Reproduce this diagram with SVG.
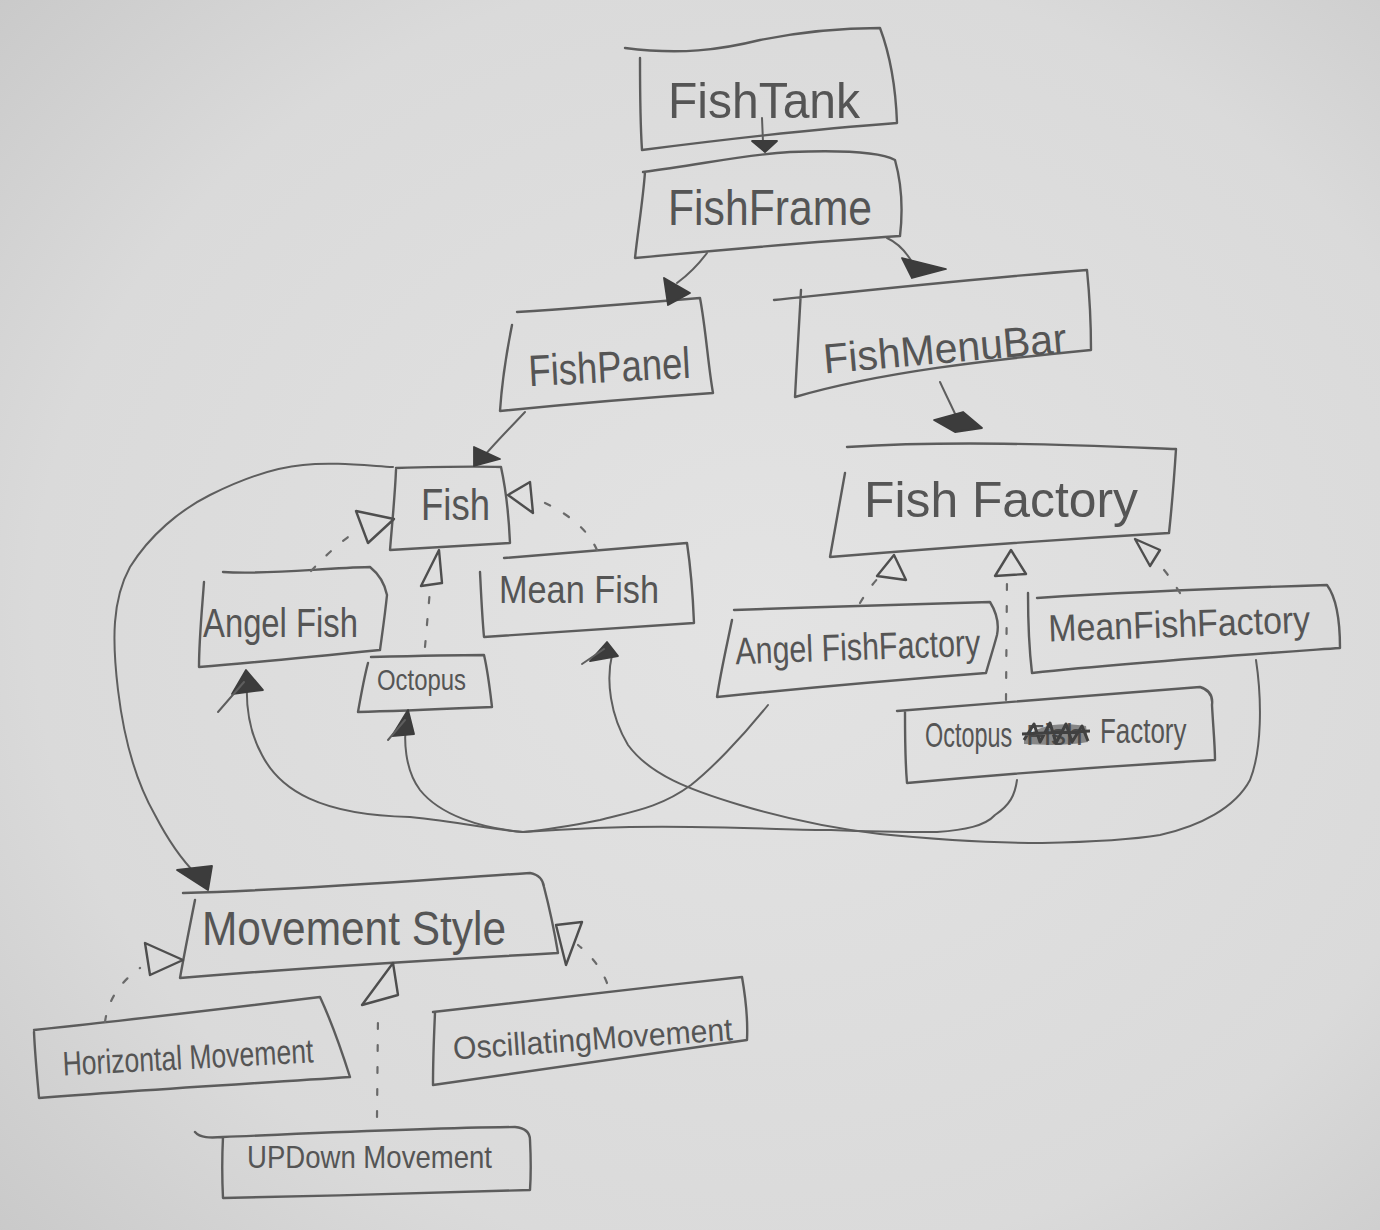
<svg xmlns="http://www.w3.org/2000/svg" width="1380" height="1230" viewBox="0 0 1380 1230">
  <defs>
    <radialGradient id="paper" cx="0.55" cy="0.5" r="0.75">
      <stop offset="0" stop-color="#e3e3e3"/>
      <stop offset="0.7" stop-color="#dadada"/>
      <stop offset="1" stop-color="#c9c9c9"/>
    </radialGradient>
    <style>
      .box { fill: none; stroke: #5c5c5c; stroke-width: 2.4; stroke-linecap: round; stroke-linejoin: round; }
      .edge { fill: none; stroke: #5e5e5e; stroke-width: 2; stroke-linecap: round; }
      .dash { fill: none; stroke: #6a6a6a; stroke-width: 2.2; stroke-dasharray: 6 16; stroke-linecap: round; }
      .head { fill: #3c3c3c; stroke: #3c3c3c; stroke-width: 1.8; stroke-linejoin: round; }
      .tri { fill: none; stroke: #4e4e4e; stroke-width: 2.4; stroke-linejoin: round; }
      .txt { font-family: "Liberation Sans", "DejaVu Sans", sans-serif; fill: #555555; font-weight: normal; }
    </style>
  </defs>

  <rect width="1380" height="1230" fill="url(#paper)"/>

  <!-- class boxes -->
  <g id="fish-tank">
    <path class="box" d="M625,48 C680,55 720,50 760,40 C810,30 850,28 880,28 C892,60 896,95 897,123 C800,130 720,140 642,150 C640,120 640,90 640,58"/>
    <text class="txt" x="668" y="118" font-size="50" textLength="192" lengthAdjust="spacingAndGlyphs">FishTank</text>
  </g>

  <g id="fish-frame">
    <path class="box" d="M643,172 C700,165 740,155 790,152 C840,150 880,152 895,160 C902,185 903,210 900,236 C810,242 720,250 635,258 C638,230 643,200 645,172"/>
    <text class="txt" x="668" y="225" font-size="50" textLength="204" lengthAdjust="spacingAndGlyphs">FishFrame</text>
  </g>

  <g id="fish-panel">
    <path class="box" d="M517,312 C580,308 640,303 700,298 C706,330 708,365 713,393 C640,398 570,404 500,411 C502,380 507,350 512,325"/>
    <text class="txt" x="528" y="382" font-size="44" textLength="162" lengthAdjust="spacingAndGlyphs" transform="rotate(-3 610 360)">FishPanel</text>
  </g>

  <g id="fish-menu-bar">
    <path class="box" d="M774,300 C870,290 980,278 1087,270 C1090,300 1091,325 1091,350 C990,360 880,372 795,397 C797,360 799,320 801,290"/>
    <text class="txt" x="822" y="363" font-size="42" textLength="244" lengthAdjust="spacingAndGlyphs" transform="rotate(-5 944 340)">FishMenuBar</text>
  </g>

  <g id="fish">
    <path class="box" d="M396,468 C430,467 470,466 501,467 C506,490 509,520 510,543 C470,545 430,548 390,550 C392,525 395,495 396,470"/>
    <text class="txt" x="421" y="520" font-size="44" textLength="69" lengthAdjust="spacingAndGlyphs">Fish</text>
  </g>

  <g id="angel-fish">
    <path class="box" d="M223,572 C270,575 320,568 370,567 C380,575 385,585 387,595 C385,615 382,635 380,650 C320,656 260,662 199,667 C199,640 202,610 204,582"/>
    <text class="txt" x="203" y="637" font-size="40" textLength="155" lengthAdjust="spacingAndGlyphs">Angel Fish</text>
  </g>

  <g id="octopus">
    <path class="box" d="M371,657 C410,656 450,655 484,655 C488,672 490,690 492,707 C445,709 400,711 358,712 C361,695 364,678 368,663"/>
    <text class="txt" x="377" y="690" font-size="29" textLength="89" lengthAdjust="spacingAndGlyphs">Octopus</text>
  </g>

  <g id="mean-fish">
    <path class="box" d="M504,558 C570,553 630,548 687,543 C691,570 693,598 694,623 C625,628 555,632 484,637 C482,615 481,592 480,572"/>
    <text class="txt" x="499" y="603" font-size="38" textLength="160" lengthAdjust="spacingAndGlyphs">Mean Fish</text>
  </g>

  <g id="fish-factory">
    <path class="box" d="M847,447 C960,440 1070,445 1176,449 C1174,480 1172,505 1169,533 C1050,540 940,548 830,557 C835,530 840,500 845,473"/>
    <text class="txt" x="864" y="517" font-size="50" textLength="274" lengthAdjust="spacingAndGlyphs">Fish Factory</text>
  </g>

  <g id="angel-fish-factory">
    <path class="box" d="M734,610 C820,607 910,604 990,602 C998,615 999,625 997,635 C993,650 989,662 986,673 C895,680 805,688 717,697 C721,670 727,645 732,620"/>
    <text class="txt" x="735" y="660" font-size="38" textLength="245" lengthAdjust="spacingAndGlyphs" transform="rotate(-2 857 640)">Angel FishFactory</text>
  </g>

  <g id="mean-fish-factory">
    <path class="box" d="M1037,598 C1130,592 1230,588 1327,585 C1338,600 1340,625 1340,648 C1240,655 1135,662 1032,673 C1029,648 1028,620 1028,593"/>
    <text class="txt" x="1048" y="637" font-size="38" textLength="262" lengthAdjust="spacingAndGlyphs" transform="rotate(-2 1179 620)">MeanFishFactory</text>
  </g>

  <g id="octopus-factory">
    <path class="box" d="M897,711 C1000,702 1100,694 1200,687 C1210,690 1213,697 1212,705 C1213,725 1215,745 1215,760 C1110,766 1005,774 907,783 C905,760 905,735 905,712"/>
    <text class="txt" font-size="36" transform="translate(925 747) scale(0.65 1)">Octopus</text>
    <text class="txt" font-size="30" transform="translate(1026 745) scale(1 1)">Fish</text>
    <text class="txt" font-size="36" transform="translate(1100 743) scale(0.72 1)">Factory</text>
    <!-- scribble striking out the middle word -->
    <path d="M1024,738 C1040,724 1060,722 1086,726 L1088,742 C1065,746 1044,745 1024,744 Z" fill="#3e3e3e" fill-opacity="0.55"/>
    <path d="M1024,740 L1034,724 L1040,742 L1050,723 L1056,743 L1066,724 L1072,742 L1082,726 L1088,741 M1022,734 L1090,731" fill="none" stroke="#404040" stroke-width="3" stroke-linejoin="round"/>
  </g>

  <g id="movement-style">
    <path class="box" d="M183,893 C300,890 420,880 530,873 C540,875 543,880 544,887 C550,910 555,935 558,953 C430,960 300,968 180,978 C185,950 190,925 195,900"/>
    <text class="txt" x="202" y="945" font-size="48" textLength="304" lengthAdjust="spacingAndGlyphs">Movement Style</text>
  </g>

  <g id="horizontal-movement">
    <path class="box" d="M34,1030 C130,1020 230,1008 320,997 C333,1025 343,1055 350,1077 C245,1084 140,1090 39,1098 C37,1075 35,1055 34,1032"/>
    <text class="txt" x="62" y="1069" font-size="34" textLength="251" lengthAdjust="spacingAndGlyphs" transform="rotate(-3 188 1050)">Horizontal Movement</text>
  </g>

  <g id="oscillating-movement">
    <path class="box" d="M433,1012 C540,1000 640,988 742,977 C746,1000 748,1020 747,1040 C640,1055 535,1070 433,1085 C433,1060 434,1035 435,1013"/>
    <text class="txt" x="452" y="1050" font-size="32" textLength="280" lengthAdjust="spacingAndGlyphs" transform="rotate(-4 590 1030)">OscillatingMovement</text>
  </g>

  <g id="updown-movement">
    <path class="box" d="M195,1132 C200,1138 210,1138 223,1137 C320,1133 420,1128 515,1127 C525,1128 530,1132 530,1140 C531,1160 531,1175 530,1190 C430,1193 325,1196 223,1198 C222,1178 222,1157 223,1137"/>
    <text class="txt" x="247" y="1168" font-size="32" textLength="245" lengthAdjust="spacingAndGlyphs">UPDown Movement</text>
  </g>

  <!-- connectors -->
  <g id="connectors">
    <!-- associations (solid, filled heads) -->
    <path class="edge" d="M762,118 L763,142"/>
    <polygon class="head" points="752,141 777,141 765,152"/>

    <path class="edge" d="M707,253 C698,265 688,275 677,283"/>
    <polygon class="head" points="664,278 690,293 668,305"/>

    <path class="edge" d="M887,238 C898,243 906,252 912,262"/>
    <polygon class="head" points="902,258 946,269 912,278"/>

    <path class="edge" d="M940,382 C946,395 952,407 957,418"/>
    <polygon class="head" points="934,420 963,412 982,428 955,432"/>

    <path class="edge" d="M525,412 C510,428 496,442 485,455"/>
    <polygon class="head" points="474,447 500,459 474,466"/>

    <!-- Fish to Movement Style -->
    <path class="edge" d="M393,467 C360,465 330,462 303,465 C270,468 240,480 210,495 C180,510 150,535 130,567 C112,600 112,640 118,690 C124,740 135,780 155,815 C168,840 182,860 196,874"/>
    <polygon class="head" points="177,870 212,866 208,890"/>

    <!-- factories to products -->
    <path class="edge" d="M247,680 C246,700 248,730 262,755 C280,790 320,815 410,817 C460,822 495,830 523,832"/>
    <polygon class="head" points="246,670 232,694 263,690"/>
    <path class="edge" d="M218,712 L244,682"/>

    <path class="edge" d="M768,705 C740,740 710,770 691,785 C660,808 630,812 600,820 C570,826 545,830 523,832"/>

    <path class="edge" d="M407,717 C403,740 405,770 420,790 C440,815 480,828 523,832"/>
    <polygon class="head" points="408,710 392,736 414,734"/>
    <path class="edge" d="M388,740 L405,720"/>

    <path class="edge" d="M523,832 C580,828 640,826 691,827 C760,828 800,830 831,830 C880,832 910,832 937,832 C965,830 985,826 995,815 C1010,805 1015,795 1017,780"/>

    <path class="edge" d="M612,655 C606,680 610,715 628,745 C650,775 690,790 740,805 C790,820 830,828 880,834 C940,840 1000,843 1042,843 C1090,842 1130,840 1160,835 C1200,826 1235,808 1250,780 C1262,750 1262,700 1256,660"/>
    <polygon class="head" points="607,642 590,661 618,656"/>
    <path class="edge" d="M582,664 L604,649"/>

    <!-- realizations (dashed, hollow heads) -->
    <path class="dash" d="M311,571 C325,556 340,542 358,530"/>
    <polygon class="tri" points="356,511 394,519 368,543"/>

    <path class="dash" d="M425,647 L430,590"/>
    <polygon class="tri" points="439,550 442,583 421,586"/>

    <path class="dash" d="M597,550 C588,530 570,515 545,503"/>
    <polygon class="tri" points="508,495 530,482 533,513"/>

    <path class="dash" d="M860,603 C866,593 873,583 881,575"/>
    <polygon class="tri" points="894,555 906,580 877,576"/>

    <path class="dash" d="M1006,700 L1007,578"/>
    <polygon class="tri" points="1011,550 1026,574 995,576"/>

    <path class="dash" d="M1180,593 C1172,580 1165,570 1155,560"/>
    <polygon class="tri" points="1135,539 1160,550 1150,566"/>

    <path class="dash" d="M105,1022 C108,1000 120,982 140,968"/>
    <polygon class="tri" points="183,960 145,943 150,975"/>

    <path class="dash" d="M377,1117 L378,1015"/>
    <polygon class="tri" points="393,963 398,995 362,1005"/>

    <path class="dash" d="M607,983 C602,970 593,957 578,945"/>
    <polygon class="tri" points="556,925 582,922 566,965"/>
  </g>
</svg>
